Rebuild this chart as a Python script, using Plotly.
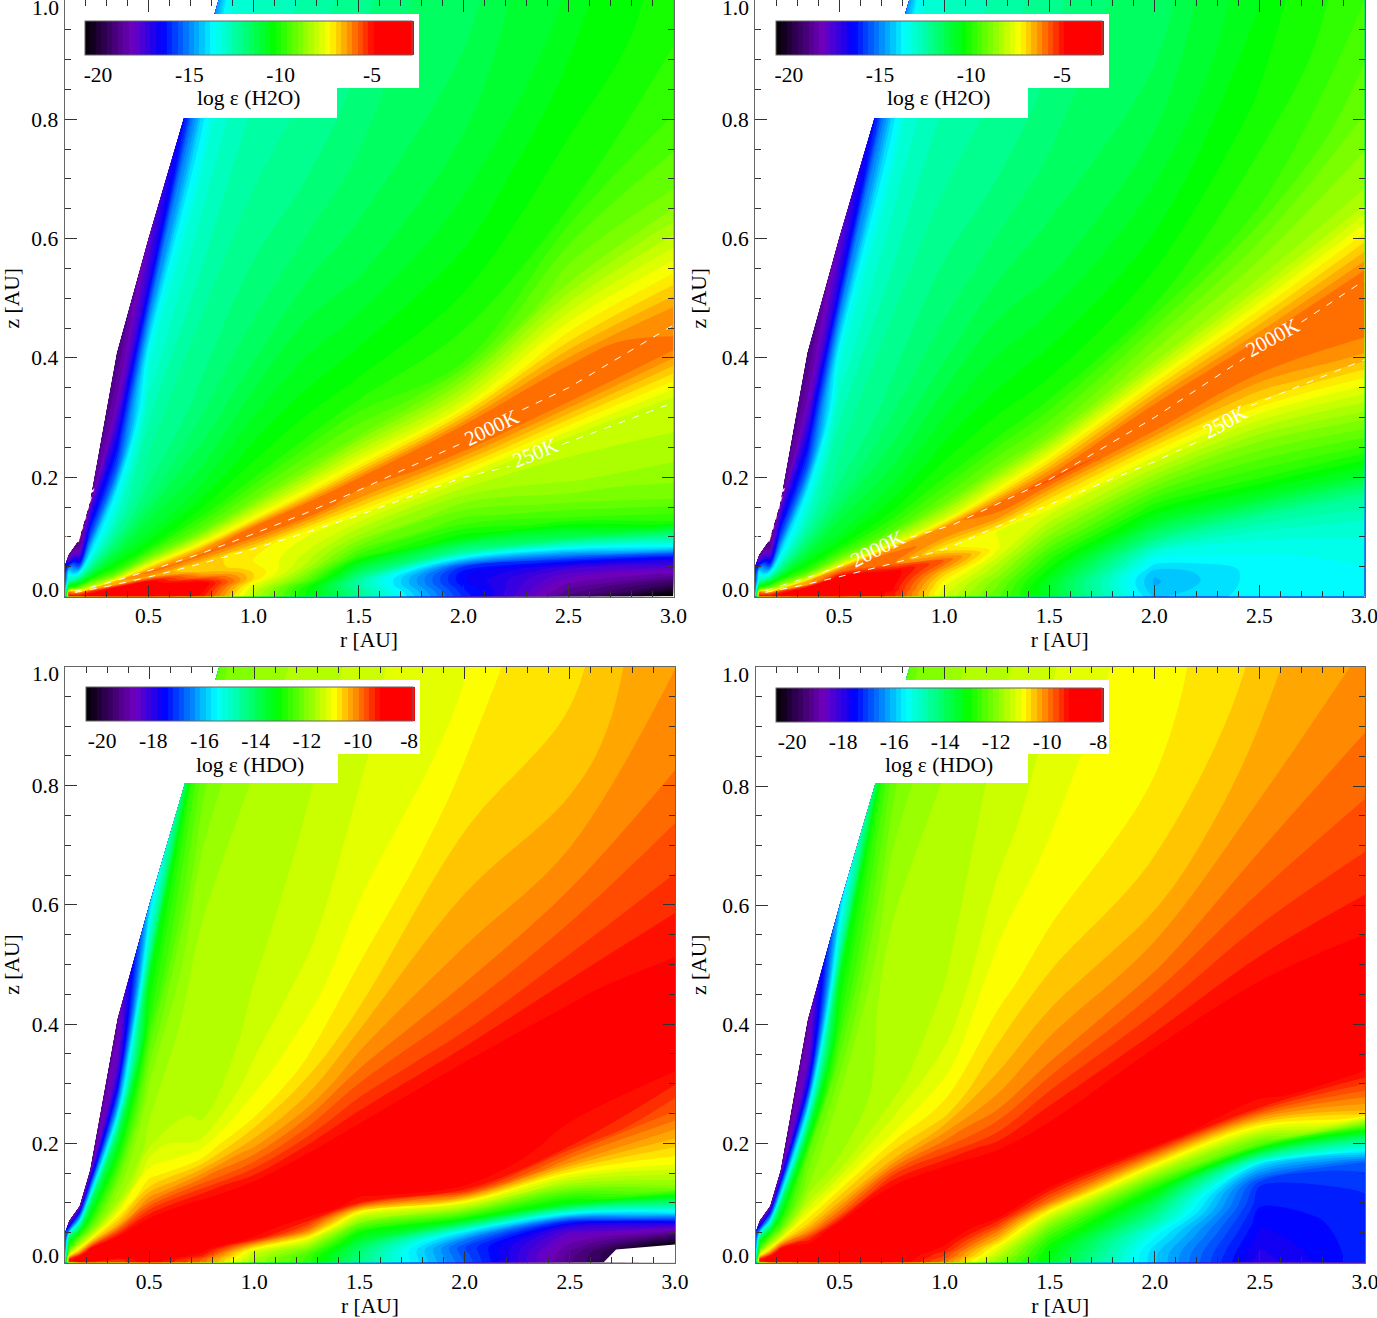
import plotly.graph_objects as go

FIG_W, FIG_H = 1377, 1318
SERIF = "Liberation Serif"
FS = 21.5

# Grid of the tables: one list per radius, one entry per height row.
# height of a row at radius r = row_t * r**1.3, limited by the disc's upper edge.
radii = [0.1, 0.12, 0.17, 0.22, 0.35, 0.5, 0.75, 1.0, 1.25, 1.5, 2.0, 2.5, 3.0]
row_t = [0, .005, .01, .015, .02, .03, .04, .05, .06, .08, .10, .115, .13, .16, .2, .25, .32, .4, .5, .7, .85, 1.0, 1.15, 1.3, 1.6]
edge_z = [0.05, 0.07, 0.095, 0.155, 0.41, 0.6, 0.9, 1.2, 1.5, 1.8, 2.4, 3.0, 3.6]

h2o_inner = [
    [-15, -15, -15, -15, -15, -15, -15, -15, -15, -15, -15, -15, -15.2, -15.2, -15.4, -15.4, -15.6, -15.6, -16],
    [-5, -5, -5, -5, -5, -5.2, -5.2, -5.3, -5.5, -5.5, -5.7, -6, -6.5, -8.5, -9.5, -10.2, -11.3, -12.7, -13.2, -14.2, -16.5, -18, -18.5],
    [-5, -5, -5, -5, -5, -5.3, -5.5, -5.7, -6, -7, -7.5, -8, -8.5, -9.3, -10.2, -11, -12.5, -13.6, -15.5, -17.8, -18.8, -19],
    [-4.5, -4.5, -4.5, -4.5, -4.6, -4.7, -5, -5.2, -5.5, -6.5, -7.5, -8, -8.6, -9, -10, -11, -12, -13, -13.8, -15.5, -16.5, -17.5, -18.5],
    [-4, -4, -4, -4, -4, -4.2, -4.4, -4.5, -4.8, -6.5, -6.5, -7.5, -8.3, -9.5, -10.2, -10.8, -11.5, -12.2, -12.8, -13.8, -15.5, -16.5, -17.5, -18.3, -19],
]
h2o_a_outer = [
    [-4.2, -4.2, -4.2, -4.2, -4.2, -4.3, -4.4, -4.5, -4.6, -6.5, -6, -6.8, -7.5, -9, -10.2, -10.8, -11.2, -11.8, -12.2, -12.6, -13, -13.5, -15, -17, -18],
    [-5, -4.9, -4.8, -4.7, -4.6, -4.5, -5.2, -6.2, -6.7, -6.9, -6, -6.5, -7.5, -9.2, -10.1, -10.7, -11.2, -11.6, -12, -12.4, -12.8, -13.1, -14, -15.5, -15.5],
    [-8.2, -8.1, -8, -7.8, -7.6, -7, -7, -7.2, -7.3, -7.1, -6, -5.9, -7.3, -9, -10, -10.5, -11, -11.5, -11.9, -12.4, -12.7, -13],
    [-10.3, -10.3, -10.2, -9.9, -9.3, -8.7, -8.2, -8, -7.8, -7.5, -6, -5.9, -7.3, -9, -10, -10.5, -11, -11.5, -12, -12.5, -12.8],
    [-12, -12.2, -12.5, -12.5, -12, -11, -9.8, -9.1, -8.5, -7.6, -6.2, -5.9, -7.3, -9.1, -10.1, -10.6, -11.2, -11.6, -12, -12.4],
    [-16, -16.2, -16.5, -16.5, -16, -12.5, -10.5, -9.6, -9, -7.8, -6, -5.9, -7.6, -9.7, -10.2, -10.7, -11.2, -11.6],
    [-19, -18.5, -18, -17.3, -15.5, -11.5, -9.7, -8.9, -8.4, -8, -6, -5.9, -7, -8.8, -10, -10.4, -10.9],
    [-21, -19.5, -18.2, -16.8, -13.8, -10, -9, -8.6, -8.3, -7.9, -6, -6.3, -7.3, -9, -9.8, -10.2],
]
h2o_b_outer = [
    [-4.2, -4.2, -4.2, -4.2, -4.2, -4.3, -4.4, -4.4, -4.5, -4.6, -5.8, -6.5, -7.8, -9.2, -10.2, -10.8, -11.2, -11.8, -12.2, -12.6, -13, -13.5, -15, -17, -18],
    [-5, -5, -5, -4.8, -4.8, -4.7, -4.6, -4.6, -4.7, -6, -5.9, -6.3, -7.8, -9.4, -10.2, -10.7, -11.2, -11.6, -12, -12.4, -12.8, -13.1, -14, -15.5, -15.5],
    [-7.8, -7.8, -7.7, -7.6, -7.5, -7.2, -6.8, -6.2, -5.8, -7.2, -6.3, -6.2, -7.8, -9.2, -10, -10.5, -11, -11.5, -11.9, -12.4, -12.7, -13],
    [-9.3, -9.2, -9.1, -9, -8.9, -8.5, -8.2, -7.8, -7.5, -7.6, -6.2, -5.9, -7.2, -9, -10, -10.5, -11, -11.5, -12, -12.5, -12.8],
    [-10.8, -10.9, -10.9, -10.8, -10.6, -10.2, -9.8, -9.3, -8.8, -7.9, -6.8, -5.7, -6.8, -9, -10.1, -10.6, -11.2, -11.6, -12, -12.4],
    [-14.2, -14.4, -14.5, -14.4, -14, -13.2, -12, -11, -10.2, -8.7, -7.2, -5.9, -6, -8.5, -10, -10.6, -11.2, -11.7],
    [-13.7, -13.7, -13.7, -13.7, -13.6, -13.2, -12.4, -11, -10, -8.7, -7, -6, -6, -8.4, -9.7, -10.2, -10.7],
    [-13.6, -13.6, -13.6, -13.5, -13.4, -13, -12.3, -10.8, -9.7, -8, -6.2, -5.8, -6, -8.4, -9.2, -9.8],
]
hdo_inner = [
    [-15.5, -15.5, -15.5, -15.5, -15.5, -15.5, -15.5, -15.5, -15.5, -15.5, -15.5, -15.5, -15.7, -15.7, -16, -16, -16.3, -16.5, -17],
    [-10.5, -10.5, -10, -9.8, -9.5, -9.2, -9.2, -9.2, -9.2, -9.3, -9.5, -9.7, -10, -10.5, -11, -11.5, -12.2, -12.7, -13, -14.5, -16.5, -18, -19],
    [-9.2, -9.2, -9, -9, -9, -9, -9, -9, -9, -9, -9.1, -9.2, -9.5, -10, -10.5, -11, -11.6, -12.3, -13, -15.5, -17.5, -19],
    [-9.3, -9.3, -9.2, -9.1, -9, -8.9, -8.8, -8.8, -8.8, -8.8, -8.8, -8.8, -8.8, -9, -9.8, -10.6, -11.5, -12.2, -12.8, -14, -16, -17.8, -19],
]
hdo_a_outer = [
    [-9.5, -9.5, -9.5, -9.5, -9.3, -9, -8.8, -8.7, -8.7, -8.7, -8.7, -8.7, -8.8, -9, -9.6, -10.4, -11, -11.7, -12, -13, -14, -16, -17.5, -18.5, -19],
    [-8.9, -8.9, -8.8, -8.8, -8.8, -8.9, -8.8, -8.7, -8.7, -8.7, -8.7, -8.7, -8.7, -8.9, -9.3, -10, -10.7, -11.1, -11.6, -11.8, -12.2, -12.8, -13.2, -14.8, -16],
    [-9.8, -9.8, -9.7, -9.4, -9.2, -9, -8.9, -8.8, -8.8, -8.8, -8.8, -8.8, -8.9, -9.2, -9.9, -10.8, -11.4, -11.6, -11.6, -11.6, -11.7, -11.9, -12.2, -12.6, -13],
    [-11.7, -11.7, -11.5, -11.4, -11.2, -10.3, -9.2, -9, -9, -8.9, -8.8, -8.9, -9, -9.6, -10.3, -10.9, -11.2, -11.4, -11.5, -11.6, -11.7, -11.9],
    [-12.6, -12.6, -12.5, -12.2, -11.8, -11, -10, -9.4, -9, -8.9, -8.8, -8.8, -9, -9.6, -10.3, -10.8, -11.1, -11.3, -11.4, -11.6, -11.7],
    [-14.3, -14.3, -14.2, -14, -13.7, -13, -12, -10.9, -9.2, -8.9, -8.8, -8.8, -9, -9.5, -10.1, -10.6, -10.95, -11.15, -11.3, -11.5],
    [-16.8, -16.9, -17, -16.6, -15.8, -13, -11.2, -9.2, -8.9, -8.8, -8.8, -8.8, -9, -9.6, -10.1, -10.4, -10.75, -11.05],
    [-19.3, -19.2, -18.9, -18.6, -17.7, -13.3, -11.7, -10.3, -9.3, -9, -8.9, -8.8, -9.1, -9.6, -10.1, -10.5, -10.75],
    [-21, -21, -19.8, -18.2, -15.7, -12, -11, -10.4, -9.8, -9, -8.8, -9.05, -9.2, -9.6, -10, -10.25],
]
hdo_b_outer = [
    [-8.9, -8.9, -8.9, -8.9, -8.9, -8.8, -8.8, -8.8, -8.8, -8.8, -8.9, -9, -9.2, -9.5, -10.1, -10.6, -11, -11.5, -11.9, -12.3, -13.5, -15.5, -17.5, -18.5, -19],
    [-8.7, -8.7, -8.7, -8.7, -8.7, -8.7, -8.7, -8.7, -8.7, -8.7, -8.7, -8.7, -8.8, -9, -9.8, -10.4, -11, -11.6, -11.8, -11.9, -12.3, -12.8, -13.2, -14.8, -16],
    [-8.7, -8.7, -8.7, -8.7, -8.7, -8.7, -8.7, -8.7, -8.7, -8.6, -8.6, -8.6, -8.6, -8.8, -9.3, -10.4, -11.1, -11.5, -11.6, -11.6, -11.7, -11.9, -12.2, -12.6, -13],
    [-9.9, -9.8, -9.6, -9.5, -9.3, -9.1, -8.9, -8.8, -8.7, -8.6, -8.6, -8.6, -8.7, -9.1, -9.9, -10.7, -11.1, -11.4, -11.5, -11.6, -11.7, -11.9],
    [-11.8, -11.7, -11.4, -11.2, -11, -10.4, -9.9, -9.4, -8.9, -8.7, -8.6, -8.7, -8.9, -9.5, -10.1, -10.5, -10.85, -11.05, -11.3, -11.5, -11.6],
    [-13.4, -13.3, -13.2, -13.1, -12.9, -12.4, -11.8, -11, -10, -8.8, -8.7, -8.7, -9, -9.4, -10, -10.4, -10.8, -11, -11.2, -11.4],
    [-15.9, -15.9, -15.8, -15.6, -15.4, -14.6, -13.9, -13, -11.8, -9.1, -8.8, -8.6, -8.8, -9.4, -10, -10.5, -10.8, -11],
    [-18, -17.9, -17.8, -17.7, -17.6, -17.4, -17.2, -15.8, -12.5, -9.2, -8.8, -8.7, -8.9, -9.4, -9.9, -10.3, -10.6],
    [-17.3, -17.3, -17.3, -17.3, -17.3, -17.2, -16.9, -14.2, -10.5, -8.9, -8.5, -8.8, -9.1, -9.5, -9.9, -10.2],
]

# Temperature contours
a_2000_r = [0.15, 0.3, 0.5, 0.75, 1.0, 1.25, 1.5, 1.98, None, 2.28, 2.5, 3.0]
a_2000_z = [0.009, 0.022, 0.043, 0.072, 0.105, 0.14, 0.178, 0.255, None, 0.313, 0.35, 0.455]
a_250_r = [0.15, 0.3, 0.5, 0.75, 1.0, 1.25, 1.5, 2.0, 2.22, None, 2.47, 3.0]
a_250_z = [0.0068, 0.0167, 0.0325, 0.055, 0.08, 0.107, 0.136, 0.2, 0.218, None, 0.255, 0.325]
b_2000_r = [0.15, 0.3, 0.395, 0.55, None, 0.84, 1.04, 1.5, 2.0, 2.43, None, 2.7, 3.0]
b_2000_z = [0.01, 0.026, 0.037, 0.057, None, 0.099, 0.12, 0.196, 0.30, 0.40, None, 0.46, 0.53]
b_250_r = [0.15, 0.3, 0.5, 0.75, 1.0, 1.5, 2.0, 2.22, None, 2.46, 3.0]
b_250_z = [0.007, 0.017, 0.033, 0.055, 0.079, 0.154, 0.226, 0.262, None, 0.32, 0.397]

# White gap in the lower right of the third panel (below the plotted range)
gap_r = [2.66, 2.72, 3.0, 3.0, 2.66]
gap_z = [0.0, 0.022, 0.03, 0.0, 0.0]

colorscale = [[0, "#000000"], [0.147, "#7000c0"], [0.24, "#0000ff"], [0.40, "#00ffff"],
              [0.587, "#00ff00"], [0.76, "#ffff00"], [0.90, "#ff0000"], [1, "#ff0000"]]

h2o_range = (-20.71, -2.81)
hdo_range = (-20.63, -7.85)
h2o_ticks = [-20, -15, -10, -5]
hdo_ticks = [-20, -18, -16, -14, -12, -10, -8]

x_ticks = [0.5, 1.0, 1.5, 2.0, 2.5, 3.0]
y_ticks = [0.2, 0.4, 0.6, 0.8]

panels = [
    dict(box=(64.5, 673.5, 0.0, 596.5), cols=h2o_inner + h2o_a_outer, rng=h2o_range, ticks=h2o_ticks,
         bar=(85, 327), title="log ε (H2O)", white=(78, 419, 14, 88, 337, 118)),
    dict(box=(755, 1364.5, 0.0, 596.5), cols=h2o_inner + h2o_b_outer, rng=h2o_range, ticks=h2o_ticks,
         bar=(776, 326), title="log ε (H2O)", white=(769, 1109, 14, 88, 1028, 118)),
    dict(box=(65, 675, 666.5, 1262.5), cols=hdo_inner + hdo_a_outer, rng=hdo_range, ticks=hdo_ticks,
         bar=(86, 327), title="log ε (HDO)", white=(79, 420, 680, 754, 338, 783)),
    dict(box=(755.5, 1365, 667, 1262.5), cols=hdo_inner + hdo_b_outer, rng=hdo_range, ticks=hdo_ticks,
         bar=(776, 326), title="log ε (HDO)", white=(769, 1109, 680, 754, 1028, 783)),
]


def pad(col):
    return col + [col[-1]] * (len(row_t) - len(col))


fig = go.Figure()
annotations = []
shapes = []

for i, p in enumerate(panels):
    n = i + 1
    suffix = "" if n == 1 else str(n)
    xa, ya = "x" + suffix, "y" + suffix
    left, right, top, bottom = p["box"]

    # carpet coordinates
    xs = [list(radii) for _ in row_t]
    ys = [[min(t * r ** 1.3, e) for r, e in zip(radii, edge_z)] for t in row_t]
    cols = [pad(c) for c in p["cols"]]
    table = [[cols[c][j] for c in range(len(radii))] for j in range(len(row_t))]

    hidden = dict(showgrid=False, minorgridcount=0, showticklabels="none", showline=False,
                  startline=False, endline=False, smoothing=0, showticksuffix="none",
                  showtickprefix="none")
    fig.add_trace(go.Carpet(carpet=f"c{n}", a=radii, b=row_t, x=xs, y=ys, aaxis=hidden, baxis=hidden,
                            xaxis=xa, yaxis=ya))
    lo, hi = p["rng"]
    fig.add_trace(go.Contourcarpet(
        carpet=f"c{n}", a=radii, b=row_t, z=table, autocontour=False, xaxis=xa, yaxis=ya,
        contours=dict(start=lo, end=hi, size=(hi - lo) / 60, coloring="fill", showlines=False),
        line=dict(width=0), colorscale=colorscale, zauto=False, zmin=lo, zmax=hi,
        colorbar=dict(orientation="h", x=p["bar"][0] / FIG_W, xanchor="left",
                      y=1 - (top + 20.7) / FIG_H, yanchor="top", xpad=0, ypad=0,
                      len=p["bar"][1], lenmode="pixels", thickness=33.5, thicknessmode="pixels",
                      outlinecolor="#666666", outlinewidth=1, tickmode="array", tickvals=p["ticks"],
                      ticktext=[str(v) for v in p["ticks"]], ticks="outside", ticklen=1,
                      tickcolor="rgba(0,0,0,0)", tickfont=dict(family=SERIF, size=FS, color="black"),
                      ),
    ))

    # Colour bar caption
    annotations.append(dict(text=p["title"], x=(p["bar"][0] + p["bar"][1] / 2) / FIG_W, y=1 - (top + 98) / FIG_H,
                            xref="paper", yref="paper", xanchor="center", yanchor="middle", showarrow=False,
                            font=dict(family=SERIF, size=FS, color="black")))

    # white panel behind the colour bar
    x0, x1, y0, y1, x2, y2 = p["white"]
    def to_x(px):
        return 0.1 + (px - left) / (right - left) * 2.9
    def to_y(py):
        return (bottom - py) / (bottom - top)
    path = (f"M{to_x(x0)},{to_y(y0)} L{to_x(x1)},{to_y(y0)} L{to_x(x1)},{to_y(y1)} L{to_x(x2)},{to_y(y1)} "
            f"L{to_x(x2)},{to_y(y2)} L{to_x(x0)},{to_y(y2)} Z")
    shapes.append(dict(type="path", path=path, xref=xa, yref=ya, fillcolor="white", line=dict(width=0), layer="above"))

    fig.update_layout({
        ("xaxis" + suffix): dict(
            domain=[left / FIG_W, right / FIG_W], range=[0.1, 3.0], anchor=ya,
            tickmode="array", tickvals=x_ticks, ticktext=[f"{v:.1f}" for v in x_ticks],
            ticks="inside", ticklen=12, tickcolor="#333333", tickwidth=1, mirror="allticks",
            showline=True, linecolor="#666666", linewidth=1, showgrid=False, zeroline=False,
            minor=dict(ticks="inside", dtick=0.1, tick0=0.0, ticklen=6, tickcolor="#333333", tickwidth=1, showgrid=False),
            tickfont=dict(family=SERIF, size=FS, color="black"), ticklabelstandoff=0, ticklabeloverflow="allow",
            title=dict(text="r [AU]", font=dict(family=SERIF, size=FS, color="black"), standoff=4),
        ),
        ("yaxis" + suffix): dict(
            domain=[1 - bottom / FIG_H, 1 - top / FIG_H], range=[0, 1], anchor=xa,
            tickmode="array", tickvals=y_ticks, ticktext=[f"{v:.1f}" for v in y_ticks],
            ticks="inside", ticklen=12, tickcolor="#333333", tickwidth=1, mirror="allticks",
            showline=True, linecolor="#666666", linewidth=1, showgrid=False, zeroline=False,
            minor=dict(ticks="inside", dtick=0.05, tick0=0.0, ticklen=6, tickcolor="#333333", tickwidth=1, showgrid=False),
            tickfont=dict(family=SERIF, size=FS, color="black"), ticklabelstandoff=1,
            title=dict(text="z [AU]", font=dict(family=SERIF, size=FS, color="black"), standoff=9),
        ),
    })

    # End labels of the height axis sit just inside the axis range
    for label, py in (("1.0", top + 7.5), ("0.0", bottom - 6.5)):
        annotations.append(dict(text=label, x=(left - 4) / FIG_W, y=1 - py / FIG_H, xref="paper", yref="paper",
                                xanchor="right", yanchor="middle", showarrow=False,
                                font=dict(family=SERIF, size=FS, color="black")))


def dashed(r, z, xa, ya):
    fig.add_trace(go.Scatter(x=r, y=z, mode="lines", xaxis=xa, yaxis=ya, hoverinfo="skip", showlegend=False,
                             line=dict(color="white", width=1, dash="7px,8px")))


dashed(a_2000_r, a_2000_z, "x", "y")
dashed(a_250_r, a_250_z, "x", "y")
dashed(b_2000_r, b_2000_z, "x2", "y2")
dashed(b_250_r, b_250_z, "x2", "y2")

fig.add_trace(go.Scatter(x=gap_r, y=gap_z, mode="lines", fill="toself", fillcolor="white", xaxis="x3", yaxis="y3",
                         line=dict(width=0, color="white"), hoverinfo="skip", showlegend=False))

# Rotated contour labels (pixel position, angle)
labels = [("2000K", 491, 428, -26), ("250K", 535, 453, -22), ("2000K", 79.5, 514, -74),
          ("2000K", 1272, 338, -29), ("250K", 1225, 422, -29), ("2000K", 877, 549, -27), ("2000K", 770, 514, -74)]
for text, px, py, ang in labels:
    annotations.append(dict(text=text, x=px / FIG_W, y=1 - py / FIG_H, xref="paper", yref="paper", textangle=ang,
                            xanchor="center", yanchor="middle", showarrow=False,
                            font=dict(family=SERIF, size=21, color="white")))

fig.update_layout(width=FIG_W, height=FIG_H, margin=dict(l=0, r=0, t=0, b=0, autoexpand=False), autosize=False,
                  paper_bgcolor="white", plot_bgcolor="white", showlegend=False,
                  annotations=annotations, shapes=shapes, font=dict(family=SERIF, size=FS, color="black"))

fig.write_html("out.html", config={"displayModeBar": False},
               post_script="document.body.style.margin='0';document.body.style.overflow='hidden';")
